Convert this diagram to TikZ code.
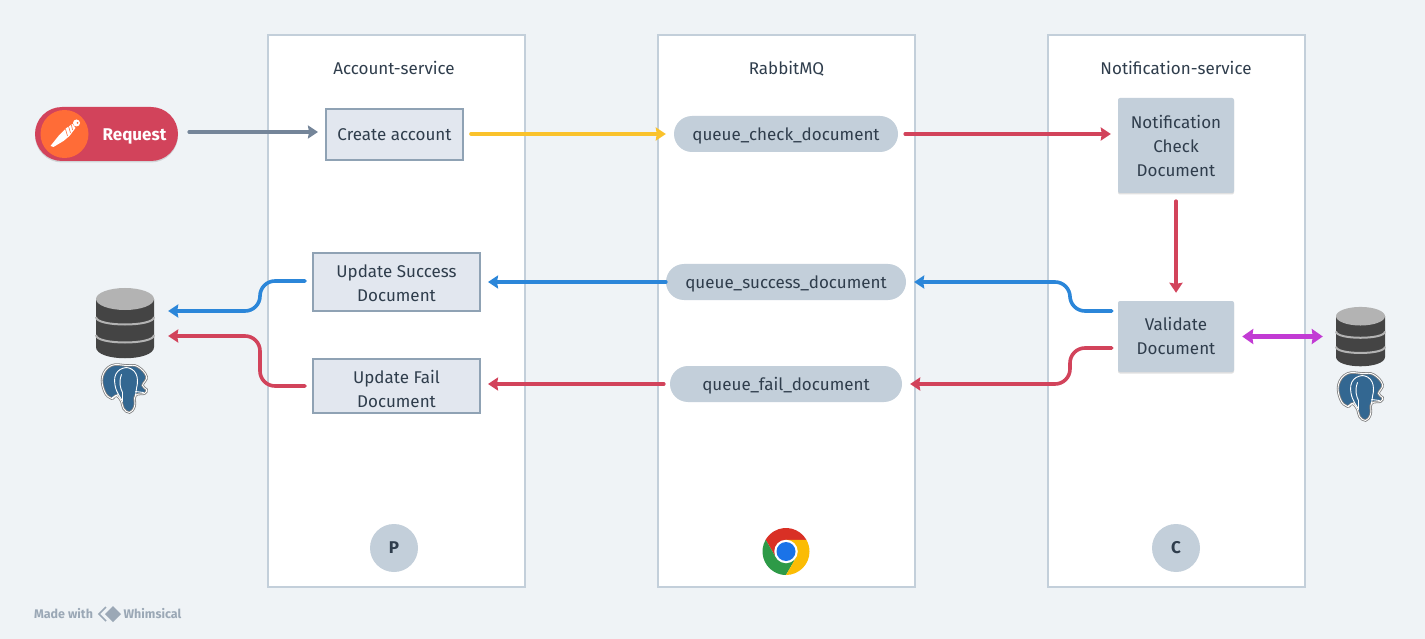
\documentclass[tikz,border=0pt]{standalone}
\usepackage{fontspec}
\setmainfont{Fira Sans}
\usetikzlibrary{arrows.meta,shadows}
\usetikzlibrary{positioning}
\definecolor{pagebg}{HTML}{EFF3F6}
\definecolor{linegrey}{HTML}{C3CFDA}
\definecolor{textdark}{HTML}{2F3D4C}
\definecolor{boxlight}{HTML}{E2E7EF}
\definecolor{boxedge}{HTML}{8FA2B4}
\definecolor{reqred}{HTML}{D2435B}
\definecolor{arrgrey}{HTML}{748599}
\definecolor{arryellow}{HTML}{FAC22B}
\definecolor{arrblue}{HTML}{2B86D9}
\definecolor{arrpurple}{HTML}{C23BD4}
\definecolor{pmorange}{HTML}{FF6C37}
\definecolor{pgblue}{HTML}{336791}
\definecolor{dbdark}{HTML}{444444}
\definecolor{dblight}{HTML}{B3B3B3}
\definecolor{wmgrey}{HTML}{9BA8B6}
\definecolor{chromered}{HTML}{D93025}
\definecolor{chromegreen}{HTML}{2D9A47}
\definecolor{chromeyellow}{HTML}{FBBC04}
\definecolor{chromeblue}{HTML}{1A73E8}
\newcommand{\pillstrut}{\rule{0pt}{17pt}}
\tikzset{
	softshadow/.style={drop shadow={shadow xshift=0pt,shadow yshift=-1.5pt,opacity=0.12,fill=black}},
	base/.style={text=textdark,font=\fontsize{17}{24}\selectfont,align=center,inner sep=0pt},
	column/.style={base,draw=linegrey,line width=2pt,fill=white,minimum width=257pt,minimum height=552pt},
	coltitle/.style={base,font=\fontsize{17}{24}\selectfont},
	lightbox/.style={base,draw=boxedge,line width=2pt,fill=boxlight},
	darkbox/.style={base,fill=linegrey,rounded corners=2pt,minimum width=116pt,softshadow},
	pill/.style={base,fill=linegrey,rounded corners=18pt,minimum height=36pt},
	badge/.style={base,circle,fill=linegrey,minimum size=48pt,font=\fontsize{17}{20}\bfseries\selectfont},
	conn/.style={line width=3.6pt,line cap=round,rounded corners=15pt,-{Stealth[length=10pt,width=13pt,inset=1pt]}},
	connboth/.style={line width=4.4pt,line cap=round,arrows={Stealth[length=11pt,width=15pt,inset=1pt]-Stealth[length=11pt,width=15pt,inset=1pt]}},
	dbicon/.pic={
		\fill [dbdark] (-29,-24) -- (-29,24) .. controls (-29,39) and (29,39) .. (29,24) -- (29,-24) -- cycle;
		\fill [dblight] (0,-24) ellipse [x radius=29,y radius=11];
		\draw [dblight,line width=2pt] (-29,-6) .. controls (-29,4) and (29,4) .. (29,-6);
		\draw [dblight,line width=2pt] (-29,12) .. controls (-29,22) and (29,22) .. (29,12);
	},
	pgicon/.pic={
		\draw [draw=gray,double=white,double distance=0.9pt,line width=0.8pt,fill=pgblue] plot [smooth cycle,tension=0.7] coordinates {(-13,-23) (-22,-12) (-20,3) (-13,10) (-8,7) (-3,13) (-1,20) (5,24) (10,18) (11,7) (20,5) (22,1) (18,-3) (22,-12) (13,-22) (2,-23)};
		\draw [white,line width=0.9pt,line cap=round] (-8,2) .. controls (-13,-12) and (-8,-20) .. (2,-21) .. controls (11,-20) and (15,-12) .. (12,0) -- (11,7) (-8,2) -- (-6,6) -- (-12,9) (-6,6) -- (-3,11) (-3,-14) .. controls (-6,-6) and (-4,0) .. (-2,4) -- (-2,13) (11,3) -- (19,4);
	},
}
\begin{document}
\begin{tikzpicture}[x=1pt,y=-1pt]
	\useasboundingbox [fill=pagebg] (0,0) rectangle (1425,639);

	\node [column] (account) at (396.5,311) {};
	\node [column] (rabbit) at (786.5,311) {};
	\node [column] (notification) at (1176.5,311) {};
	\node [coltitle] (accounttitle) at (394,68) {Account-service};
	\node [coltitle] (rabbittitle) at (786.5,68) {\rule{0pt}{15pt}RabbitMQ};
	\node [coltitle] (notificationtitle) at (1176,68) {Notification-service};

	\node [base,fill=reqred,rounded corners=27pt,minimum width=143pt,minimum height=54pt,softshadow] (request) at (106.5,134) {};
	\node [base,text=white,font=\fontsize{17}{20}\bfseries\selectfont] (requesttext) at (134.5,134) {\pillstrut Request};
	\node [circle,fill=pmorange,minimum size=48pt,inner sep=0pt] (postman) at (64.5,134) {};
	\begin{scope}[shift={(postman.center)}]
		\fill [white] (8,-10) -- (11,-6) -- (5,2) -- (-1,7) -- (-11,13) -- (-14,12) -- (-6,2) -- (2,-6) -- cycle;
		\draw [pmorange,line width=0.6pt] (4,-8) -- (6,-1) (1,-5) -- (3,2) (7,-9) -- (8,-4);
		\fill [white] (12,-11) circle (3.5);
		\fill [pmorange] (13,-11) circle (1);
	\end{scope}

	\node [lightbox,minimum width=137pt,minimum height=51pt] (create) at (394.5,134.5) {Create account};
	\node [lightbox,minimum width=167pt,minimum height=58pt] (success) at (396.5,282) {\rule{0pt}{14.4pt}Update Success\\Document};
	\node [lightbox,minimum width=167pt,minimum height=54pt] (fail) at (396.5,386) {\rule{0pt}{18.4pt}Update Fail\\Document};

	\node [pill,minimum width=224pt] (qcheck) at (786,134) {\pillstrut queue\_check\_document};
	\node [pill,minimum width=240pt] (qsuccess) at (786,282) {\pillstrut queue\_success\_document};
	\node [pill,minimum width=232pt] (qfail) at (786,384) {\pillstrut queue\_fail\_document};

	\node [darkbox,minimum height=95pt] (check) at (1176,145.5) {Notification\\Check\\Document};
	\node [darkbox,minimum height=71pt] (validate) at (1176,336.5) {Validate\\Document\rule[-2pt]{0pt}{2pt}};

	\node [badge] (producer) at (394,548) {P};
	\node [badge] (consumer) at (1176,548) {C};

	\node [circle,fill=white,minimum size=47pt,inner sep=0pt] (chrome) at (786,551.5) {};
	\begin{scope}[shift={(chrome.center)},y=1pt]
		\fill [chromered] (30:23.5) arc [start angle=30,end angle=150,radius=23.5] -- (210:11.75) -- (90:11.75) -- cycle;
		\fill [chromegreen] (150:23.5) arc [start angle=150,end angle=270,radius=23.5] -- (330:11.75) -- (210:11.75) -- cycle;
		\fill [chromeyellow] (270:23.5) arc [start angle=270,end angle=390,radius=23.5] -- (90:11.75) -- (330:11.75) -- cycle;
		\fill [white] (0,0) circle (11.75);
		\fill [chromeblue] (0,0) circle (9.5);
	\end{scope}

	\node [minimum width=58pt,minimum height=70pt,inner sep=0pt] (dbleft) at (125,323) {};
	\pic at (dbleft) {dbicon};
	\node [minimum width=48pt,minimum height=49pt,inner sep=0pt] (pgleft) at (124.5,388.5) {};
	\pic at (pgleft) {pgicon};
	\node [minimum width=49pt,minimum height=59pt,inner sep=0pt] (dbright) at (1360.5,336.5) {};
	\pic [scale=0.845] at (dbright) {dbicon};
	\node [minimum width=48pt,minimum height=50pt,inner sep=0pt] (pgright) at (1360.5,396.5) {};
	\pic at (pgright) {pgicon};

	\coordinate (bendleftA) at (260,296);
	\coordinate (bendleftB) at (260,361);
	\coordinate (bendrightA) at (1070,296);
	\coordinate (bendrightB) at (1070,366);
	\coordinate (blueright) at ([xshift=-6pt,yshift=25.5pt]validate.west);
	\coordinate (redright) at ([xshift=-6pt,yshift=-11.5pt]validate.west);
	\coordinate (blueleft) at ([xshift=-7pt,yshift=1pt]success.west);
	\coordinate (redleft) at ([xshift=-7pt]fail.west);
	\coordinate (bluedb) at ([yshift=12pt]dbleft.east);
	\coordinate (reddb) at ([yshift=-13pt]dbleft.east);

	\draw [conn,arrgrey,shorten <=11pt,shorten >=7pt] ([yshift=2pt]request.east) to ([yshift=2pt]request.east -| create.west);
	\draw [conn,arryellow,shorten <=7pt,shorten >=8pt] (qcheck.west -| create.east) to (qcheck.west);
	\draw [conn,reqred,shorten <=7pt,shorten >=7pt] (qcheck.east) to (qcheck.east -| check.west);
	\draw [conn,reqred,shorten <=8pt,shorten >=8pt] (check.south) to (validate.north);
	\draw [conn,arrblue,shorten >=8pt] (blueright) -- (blueright -| bendrightA) -- (qsuccess.east -| bendrightA) -- (qsuccess.east);
	\draw [conn,reqred,shorten >=8pt] (redright) -- (redright -| bendrightB) -- (qfail.east -| bendrightB) -- (qfail.east);
	\draw [conn,arrblue,shorten >=7pt] (qsuccess.west) to (success.east);
	\draw [conn,reqred,shorten <=6pt,shorten >=7pt] (qfail.west) to (qfail.west -| fail.east);
	\draw [conn,arrblue,shorten >=14pt] (blueleft) -- (blueleft -| bendleftA) -- (bluedb -| bendleftA) -- (bluedb);
	\draw [conn,reqred,shorten >=14pt] (redleft) -- (redleft -| bendleftB) -- (reddb -| bendleftB) -- (reddb);
	\draw [connboth,arrpurple,shorten <=8pt,shorten >=13pt] (validate.east) to (dbright.west);

	\node [base,text=wmgrey,font=\fontsize{12.5}{15}\bfseries\selectfont] (madewith) at (63.5,614) {Made with};
	\node [base,text=wmgrey,font=\fontsize{12.5}{15}\bfseries\selectfont] (whimsical) at (152.5,614) {Whimsical};
	\fill [wmgrey] (113,606) -- (121,614) -- (113,622) -- (105,614) -- cycle;
	\draw [wmgrey,line width=1.5pt] (106,607) -- (99,614) -- (106,621);
\end{tikzpicture}
\end{document}
